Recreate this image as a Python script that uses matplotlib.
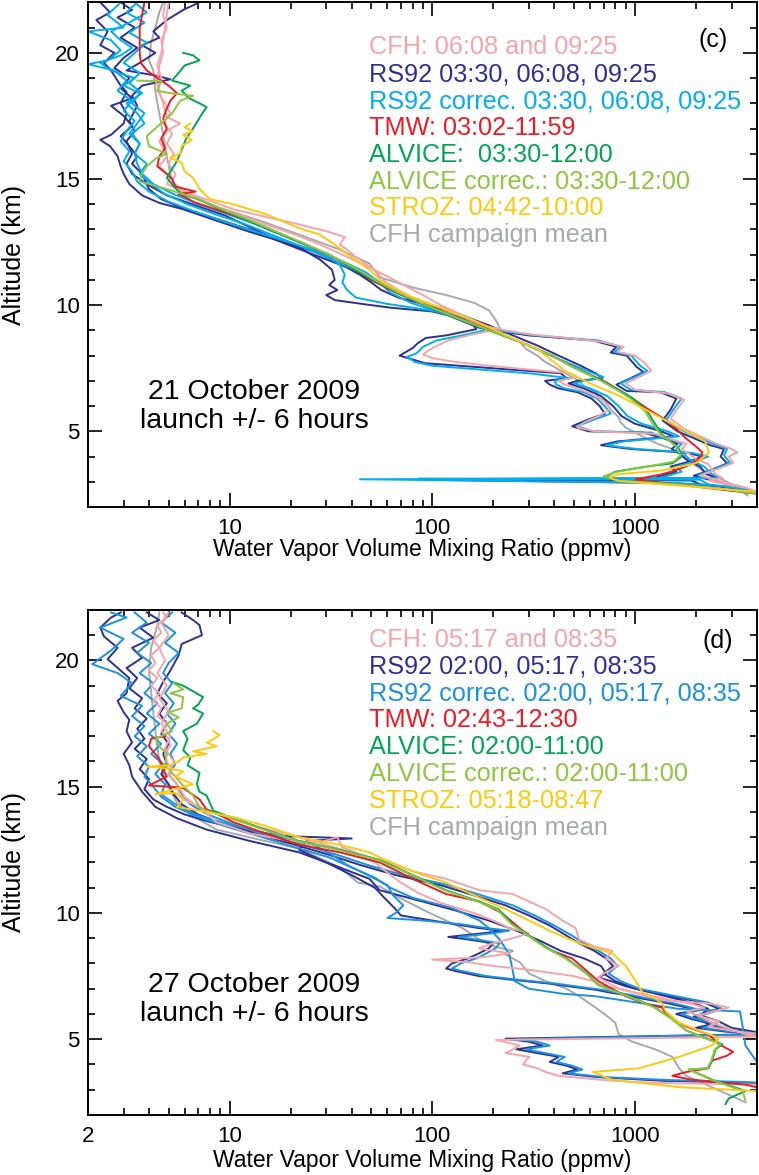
import matplotlib
matplotlib.use("Agg")
import matplotlib.pyplot as plt
from matplotlib.ticker import LogLocator, MultipleLocator, NullFormatter

plt.rcParams['font.family'] = ['Liberation Sans', 'DejaVu Sans']

# colours of the instruments
C_CFH = '#F5A5A9'
C_RS92 = '#2E3192'
C_RS92C_C = '#00AEEF'
C_RS92C_D = '#1A92DE'
C_TMW = '#ED1C24'
C_ALV = '#00A651'
C_ALVC = '#8DC63F'
C_STROZ = '#FFC90E'
C_MEAN = '#A7A9AC'

# ---------------- panel (c): 21 October 2009, pairs of (altitude km, ppmv)
c_cfh_0608 = [(22.0, 4.8), (21.5, 4.7), (21.0, 4.9), (20.5, 4.6), (20.0, 4.7), (19.5, 4.5), (19.0, 4.4), (18.9, 4.3),
              (18.5, 4.5), (18.0, 4.7), (17.45, 4.9), (17.2, 5.7), (16.9, 4.9), (16.5, 4.5), (15.9, 4.9), (15.5, 4.5),
              (15.05, 5.1), (14.8, 4.9), (14.5, 6.0), (14.2, 7.6), (13.8, 10.4), (13.5, 15), (13.2, 22), (12.9, 31),
              (12.7, 37), (12.4, 35), (12.2, 38), (11.9, 42), (11.4, 52), (10.95, 58), (10.6, 68), (10.3, 80),
              (10.0, 100), (9.8, 125), (9.5, 150), (9.2, 180), (9.0, 200), (8.8, 150), (8.6, 120), (8.3, 100),
              (8.05, 90), (7.9, 100), (7.75, 130), (7.6, 190), (7.45, 300), (7.3, 480), (7.15, 520), (7.0, 420),
              (6.85, 450), (6.7, 520), (6.5, 600), (6.2, 700), (5.9, 760), (5.6, 660), (5.35, 560), (5.15, 520),
              (5.0, 640), (4.9, 1250), (4.7, 1500), (4.5, 1800), (4.3, 1700), (4.1, 1850), (3.9, 2000), (3.7, 2300),
              (3.5, 2400), (3.3, 2500), (3.15, 2700), (3.05, 2300), (2.9, 2800), (2.75, 3600), (2.6, 3980)]
c_cfh_0925 = [(22.0, 5.0), (21.0, 4.8), (20.0, 4.6), (19.5, 4.4), (19.0, 4.6), (18.5, 4.4), (18.0, 4.8), (17.6, 5.1),
              (17.2, 4.7), (16.8, 5.2), (16.4, 4.9), (16.0, 5.3), (15.6, 5.0), (15.2, 5.4), (14.9, 5.2), (14.6, 5.8),
              (14.3, 6.6), (14.0, 8.0), (13.6, 11), (13.2, 15), (12.8, 21), (12.4, 28), (12.0, 36), (11.6, 46),
              (11.2, 58), (10.8, 72), (10.4, 90), (10.0, 110), (9.6, 140), (9.2, 175), (9.0, 230), (8.85, 300),
              (8.7, 460), (8.55, 680), (8.35, 880), (8.15, 820), (8.0, 1000), (7.7, 1120), (7.4, 1200), (7.15, 1050),
              (6.9, 900), (6.65, 1000), (6.5, 1450), (6.25, 1750), (5.9, 1620), (5.5, 1500), (5.1, 1750), (4.8, 2100),
              (4.5, 2550), (4.3, 3000), (4.16, 3200), (4.0, 2900), (3.75, 3050), (3.5, 2550), (3.25, 2100),
              (3.0, 2700), (2.75, 3600), (2.55, 3980)]
c_rs92_0330 = [(22.0, 2.3), (21.6, 2.57), (21.3, 2.2), (20.85, 2.5), (20.3, 2.3), (20.0, 2.7), (19.6, 2.4), (19.3, 2.6),
               (18.7, 2.9), (18.45, 3.1), (18.0, 2.9), (17.6, 3.1), (17.2, 3.0), (16.75, 2.6), (16.55, 2.3),
               (16.3, 2.57), (15.9, 2.8), (15.5, 2.9), (15.2, 3.0), (14.8, 3.2), (14.35, 3.7), (14.05, 4.5),
               (13.8, 5.9), (13.35, 8.6), (12.9, 12.6), (12.5, 18.5), (12.1, 26.6), (11.65, 35), (11.2, 44),
               (10.9, 50), (10.6, 56), (10.3, 68), (10.0, 95), (9.6, 140), (9.2, 190), (8.8, 250), (8.4, 330),
               (8.0, 420), (7.6, 540), (7.3, 640), (7.1, 690), (7.0, 520), (6.9, 470), (6.7, 560), (6.4, 680),
               (6.0, 780), (5.6, 860), (5.3, 1000), (5.0, 1350), (4.8, 1550), (4.6, 820), (4.45, 680), (4.3, 950),
               (4.15, 1800), (4.0, 2150), (3.8, 1850), (3.6, 1500), (3.4, 1600), (3.2, 1300), (3.1, 1200),
               (3.08, 95), (2.95, 1500), (2.8, 3000), (2.6, 3980)]
c_rs92_0608 = [(22.0, 7.1), (21.7, 5.9), (21.3, 4.9), (20.85, 4.2), (20.6, 4.5), (20.3, 3.7), (20.0, 4.3), (19.6, 3.6),
               (19.3, 3.1), (19.1, 4.3), (18.95, 5.1), (18.7, 3.7), (18.3, 3.3), (17.9, 3.5), (17.3, 3.2), (16.9, 3.4),
               (16.5, 3.1), (16.0, 3.3), (15.6, 3.1), (15.2, 3.3), (14.8, 3.9), (14.35, 4.9), (13.9, 7.1),
               (13.55, 9.5), (13.1, 12.5), (12.6, 17), (12.2, 23), (11.8, 28), (11.4, 32), (11.0, 33), (10.8, 31),
               (10.6, 34), (10.4, 30), (10.2, 33), (10.05, 45), (9.9, 62), (9.75, 100), (9.5, 135), (9.2, 160),
               (9.05, 165), (8.8, 117), (8.7, 93), (8.5, 85), (8.3, 80), (8.0, 69), (7.9, 76), (7.7, 92), (7.6, 135),
               (7.45, 240), (7.3, 430), (7.1, 460), (7.0, 360), (6.85, 380), (6.7, 420), (6.55, 520), (6.3, 610),
               (6.0, 670), (5.7, 710), (5.45, 580), (5.2, 490), (5.0, 590), (4.95, 1100), (4.73, 1380), (4.5, 1620),
               (4.3, 1520), (4.1, 1680), (3.9, 1780), (3.6, 2100), (3.3, 2250), (3.15, 2550), (3.1, 120),
               (3.05, 1900), (2.9, 2100), (2.7, 3400), (2.55, 3980)]
c_rs92_0925 = [(22.0, 2.9), (21.7, 3.3), (21.4, 2.8), (21.0, 3.4), (20.6, 2.9), (20.2, 3.5), (19.8, 3.0), (19.4, 2.7),
               (19.0, 3.2), (18.6, 2.9), (18.2, 3.3), (17.9, 2.6), (17.5, 3.0), (17.1, 3.3), (16.7, 2.9), (16.3, 3.2),
               (15.9, 3.5), (15.6, 3.3), (15.3, 3.6), (15.0, 3.8), (14.6, 4.0), (14.2, 4.6), (13.8, 6.0), (13.4, 8.8),
               (13.0, 12.5), (12.5, 18), (12.0, 26), (11.5, 38), (11.0, 50), (10.5, 68), (10.0, 92), (9.5, 128),
               (9.1, 171), (8.9, 245), (8.8, 300), (8.7, 430), (8.6, 620), (8.35, 810), (8.12, 760), (8.0, 910),
               (7.55, 1020), (7.35, 1100), (7.1, 950), (6.85, 810), (6.6, 910), (6.55, 1330), (6.3, 1600),
               (5.86, 1500), (5.43, 1370), (5.0, 1620), (4.73, 1950), (4.45, 2350), (4.3, 2750), (4.0, 2650),
               (3.73, 2850), (3.45, 2350), (3.24, 1950), (3.0, 2550), (2.75, 3450), (2.53, 3980)]
c_rs92c_0330 = [(22.0, 2.9), (21.5, 2.5), (21.0, 3.0), (20.85, 2.0), (20.5, 2.6), (20.1, 2.9), (19.7, 2.5), (19.55, 2.0),
                (19.3, 2.7), (18.9, 3.1), (18.5, 2.8), (18.1, 3.3), (17.7, 3.0), (17.3, 3.4), (16.9, 3.1), (16.5, 2.9),
                (16.1, 3.2), (15.7, 3.0), (15.3, 3.3), (14.9, 3.5), (14.5, 4.0), (14.1, 5.0), (13.7, 6.8), (13.3, 9.5),
                (12.9, 13.5), (12.5, 19.5), (12.1, 28), (11.7, 37), (11.3, 47), (10.9, 55), (10.5, 62), (10.1, 78),
                (9.7, 110), (9.3, 155), (8.9, 210), (8.5, 280), (8.1, 360), (7.7, 470), (7.35, 600), (7.15, 700),
                (7.0, 560), (6.9, 500), (6.7, 600), (6.4, 730), (6.0, 830), (5.6, 920), (5.3, 1080), (5.0, 1450),
                (4.8, 1650), (4.6, 880), (4.45, 720), (4.3, 1020), (4.15, 1900), (4.0, 2300), (3.8, 1950), (3.6, 1600),
                (3.4, 1700), (3.2, 1400), (3.13, 1300), (3.1, 44), (2.95, 1600), (2.8, 3100), (2.6, 3980)]
c_rs92c_0608 = [(22.0, 3.4), (21.6, 3.9), (21.2, 3.2), (20.85, 2.6), (20.5, 2.9), (20.2, 3.3), (19.9, 2.9), (19.6, 2.3),
                (19.3, 2.6), (19.0, 3.4), (18.7, 3.0), (18.4, 3.6), (18.0, 3.3), (17.6, 3.8), (17.2, 3.5), (16.8, 3.2),
                (16.4, 3.6), (16.0, 3.4), (15.6, 3.5), (15.2, 3.7), (14.8, 4.2), (14.4, 5.3), (14.0, 7.0), (13.6, 9.8),
                (13.2, 13.5), (12.8, 18), (12.4, 24), (12.0, 30), (11.6, 35), (11.2, 37), (10.9, 36), (10.6, 38),
                (10.3, 42), (10.05, 60), (9.9, 80), (9.7, 115), (9.45, 150), (9.2, 175), (9.0, 180), (8.8, 140),
                (8.6, 105), (8.35, 90), (8.1, 84), (7.95, 75), (7.75, 82), (7.6, 100), (7.45, 170), (7.3, 300),
                (7.1, 480), (7.0, 400), (6.85, 410), (6.7, 450), (6.55, 560), (6.3, 650), (6.0, 710), (5.7, 760),
                (5.45, 620), (5.2, 520), (5.0, 620), (4.95, 1200), (4.73, 1450), (4.5, 1700), (4.3, 1600), (4.1, 1750),
                (3.9, 1850), (3.6, 2200), (3.3, 2400), (3.15, 2700), (3.12, 85), (3.08, 2100), (2.9, 2300),
                (2.7, 3500), (2.55, 3980)]
c_rs92c_0925 = [(22.0, 3.5), (21.6, 3.1), (21.2, 3.8), (20.8, 3.2), (20.4, 3.9), (20.0, 3.4), (19.6, 3.0), (19.2, 3.6),
                (18.8, 3.2), (18.4, 3.7), (18.0, 3.1), (17.6, 3.5), (17.2, 3.8), (16.8, 3.3), (16.4, 3.6), (16.0, 3.4),
                (15.6, 3.9), (15.2, 3.6), (14.8, 4.1), (14.4, 4.8), (14.0, 6.2), (13.6, 8.5), (13.2, 12), (12.8, 16),
                (12.3, 23), (11.8, 32), (11.3, 44), (10.8, 58), (10.3, 76), (9.8, 105), (9.4, 140), (9.05, 185),
                (8.9, 260), (8.8, 320), (8.7, 460), (8.6, 660), (8.35, 850), (8.15, 790), (8.0, 960), (7.6, 1060),
                (7.4, 1150), (7.15, 1000), (6.9, 850), (6.65, 950), (6.55, 1400), (6.3, 1700), (5.9, 1560),
                (5.45, 1430), (5.05, 1700), (4.75, 2050), (4.5, 2450), (4.3, 2850), (4.05, 2750), (3.75, 2950),
                (3.5, 2450), (3.25, 2050), (3.0, 2650), (2.75, 3500), (2.53, 3980)]
c_tmw = [(22.0, 3.8), (21.0, 3.6), (20.0, 3.6), (19.6, 3.65), (19.3, 3.9), (19.0, 4.4), (18.7, 5.0), (18.4, 5.5),
         (18.1, 5.1), (17.8, 4.9), (17.4, 4.7), (17.0, 4.9), (16.6, 4.6), (16.2, 4.8), (15.9, 4.5), (15.5, 4.4),
         (15.2, 4.9), (15.0, 5.2), (14.7, 5.4), (14.5, 6.8), (14.4, 5.6), (14.3, 6.0), (14.1, 6.6), (13.8, 8.5),
         (13.4, 12), (13.0, 16), (12.5, 22), (12.0, 31), (11.5, 40), (11.0, 50), (10.5, 66), (10.0, 92), (9.5, 135),
         (9.0, 195), (8.5, 280), (8.0, 390), (7.5, 510), (7.0, 700), (6.6, 850), (6.3, 975), (5.9, 1150),
         (5.45, 1420), (5.1, 1600), (4.73, 1780), (4.4, 2000), (4.16, 2150), (3.95, 2100), (3.73, 1930),
         (3.5, 1650), (3.3, 1365), (3.1, 1010), (2.95, 1400), (2.75, 2300), (2.53, 3980)]
c_alvice = [(20.0, 5.9), (19.9, 6.6), (19.7, 7.1), (19.5, 6.0), (19.2, 5.6), (18.9, 5.2), (18.7, 6.4), (18.5, 5.8),
            (18.2, 6.3), (18.0, 7.1), (17.85, 7.7), (17.5, 7.2), (17.0, 6.6), (16.6, 6.1), (16.3, 5.9), (16.0, 5.7),
            (15.6, 5.4), (15.3, 5.1), (15.05, 4.9), (14.7, 5.3), (14.4, 5.8), (14.2, 7.0), (13.8, 9.0), (13.4, 12),
            (13.0, 15.5), (12.5, 22), (12.0, 31), (11.5, 40), (11.0, 51), (10.5, 67), (10.0, 92), (9.5, 130),
            (9.0, 190), (8.5, 280), (8.0, 390), (7.5, 510), (7.0, 690), (6.6, 850), (6.3, 975), (5.8, 1150),
            (5.45, 1220), (4.87, 1365), (4.3, 1650), (4.0, 1700), (3.73, 1530), (3.6, 1130), (3.4, 800), (3.2, 720),
            (3.05, 830), (2.9, 1650), (2.7, 2800), (2.53, 3980)]
c_alvice_cor = [(18.9, 3.5), (18.87, 4.6), (18.5, 4.4), (18.4, 5.1), (18.3, 6.6), (18.1, 5.7), (17.6, 5.2), (17.0, 4.3),
                (16.7, 3.9), (16.3, 4.0), (16.0, 4.9), (15.8, 4.3), (15.5, 3.9), (15.2, 3.7), (14.9, 3.6), (14.6, 4.9),
                (14.2, 7.1), (13.8, 9.2), (13.4, 12.3), (13.0, 16), (12.5, 22.5), (12.0, 31), (11.5, 41), (11.0, 52),
                (10.5, 68), (10.0, 93), (9.5, 132), (9.0, 192), (8.5, 282), (8.0, 390), (7.5, 505), (7.0, 680),
                (6.6, 830), (6.3, 950), (5.8, 1120), (5.4, 1200), (4.9, 1330), (4.4, 1600), (4.05, 1680), (3.8, 1550),
                (3.6, 1150), (3.4, 820), (3.22, 700), (3.05, 820), (2.9, 1600), (2.7, 2800), (2.53, 3980)]
c_stroz = [(17.2, 6.4), (17.05, 6.0), (16.9, 6.6), (16.75, 5.9), (16.55, 6.5), (16.3, 5.8), (16.0, 5.7), (15.85, 5.1),
           (15.65, 5.8), (15.3, 6.0), (15.05, 6.6), (14.6, 7.1), (14.2, 8.0), (14.0, 10.4), (13.6, 15.2), (13.05, 22),
           (12.8, 27.8), (12.4, 33), (11.9, 40), (11.4, 49), (10.95, 56), (10.4, 75), (9.8, 117), (9.4, 160),
           (9.0, 206), (8.55, 270), (8.26, 330), (7.8, 390), (7.4, 450), (6.85, 620), (6.4, 840), (5.86, 1130),
           (5.15, 1650), (4.6, 2220), (4.16, 2320), (3.73, 1990), (3.45, 1365), (3.3, 830), (3.17, 750), (3.03, 830),
           (2.75, 2400), (2.6, 3980)]
c_mean = [(22.0, 4.7), (21.6, 4.5), (21.0, 4.3), (20.4, 4.1), (19.7, 4.0), (19.3, 4.2), (18.45, 4.3), (17.6, 4.5),
          (16.75, 4.7), (15.9, 4.9), (15.2, 5.1), (14.8, 5.3), (14.4, 6.0), (13.9, 8.6), (13.35, 14.1), (12.8, 22),
          (12.2, 35), (11.65, 49), (11.1, 55), (10.7, 80), (10.4, 117), (10.1, 160), (9.8, 190), (9.4, 206),
          (9.1, 215), (8.8, 230), (8.55, 270), (8.26, 290), (8.0, 330), (7.75, 360), (7.55, 400), (7.27, 460),
          (7.0, 530), (6.8, 560), (6.56, 640), (6.35, 660), (6.15, 720), (5.85, 760), (5.57, 830), (5.35, 850),
          (5.15, 900), (4.95, 1000), (4.73, 1130), (4.5, 1300), (4.3, 1530), (3.9, 1800), (3.45, 2150),
          (3.0, 2850), (2.46, 3600)]

# ---------------- panel (d): 27 October 2009
d_cfh_0517 = [(21.9, 4.7), (21.7, 4.9), (21.4, 4.4), (21.1, 4.6), (20.8, 4.2), (20.5, 4.5), (20.2, 4.1), (19.9, 4.3),
              (19.6, 4.0), (19.3, 4.4), (19.0, 4.1), (18.7, 4.5), (18.4, 4.2), (18.1, 4.6), (17.8, 4.4), (17.5, 4.9),
              (17.2, 4.6), (16.9, 5.0), (16.6, 5.1), (16.3, 4.8), (16.0, 4.9), (15.7, 5.2), (15.4, 5.1), (15.1, 5.5),
              (14.8, 5.6), (14.5, 5.9), (14.2, 7.1), (13.9, 7.8), (13.6, 8.6), (13.15, 12.6), (12.85, 20), (12.8, 28),
              (13.0, 34), (12.6, 36), (12.3, 45), (12.1, 55), (11.65, 80), (11.35, 117), (10.9, 171), (10.75, 249),
              (10.45, 301), (10.15, 363), (9.7, 439), (9.4, 510), (8.95, 530), (8.65, 640), (8.5, 773), (8.2, 720),
              (7.9, 830), (7.6, 700), (7.45, 660), (7.0, 830), (6.55, 1365), (6.4, 2400), (6.25, 2900), (5.95, 2060),
              (5.65, 2400), (5.2, 3510), (5.1, 4200), (4.97, 206), (4.85, 240), (4.75, 270), (4.6, 250), (4.45, 230),
              (4.3, 301), (4.15, 290), (4.0, 280), (3.85, 330), (3.7, 363), (3.55, 420), (3.4, 660), (3.3, 1000),
              (3.25, 1650), (3.2, 4200)]
d_cfh_0835 = [(21.9, 5.0), (21.5, 4.6), (21.0, 5.0), (20.5, 4.5), (20.0, 4.8), (19.5, 4.4), (19.0, 4.9), (18.5, 4.5),
              (18.0, 5.0), (17.5, 4.6), (17.0, 5.1), (16.5, 4.8), (16.0, 5.3), (15.5, 5.0), (15.0, 5.6), (14.6, 6.0),
              (14.2, 7.0), (13.8, 9.5), (13.4, 14), (13.0, 22), (12.7, 30), (12.4, 40), (12.0, 52), (11.6, 60),
              (11.2, 70), (10.8, 85), (10.4, 110), (10.0, 160), (9.7, 200), (9.4, 240), (9.2, 300), (9.0, 250),
              (8.8, 200), (8.6, 170), (8.4, 240), (8.25, 180), (8.15, 100), (8.05, 150), (7.9, 200), (7.75, 300),
              (7.5, 500), (7.3, 620), (7.1, 700), (7.0, 850), (6.85, 1000), (6.7, 1250), (6.55, 1500), (6.4, 1900),
              (6.25, 2200), (6.1, 1800), (5.9, 2100), (5.7, 2600), (5.5, 2300), (5.3, 3200), (5.2, 4200)]
d_rs92_0200 = [(21.9, 2.9), (21.7, 2.6), (21.3, 2.3), (20.95, 2.4), (20.5, 2.8), (20.05, 2.5), (19.6, 2.9), (19.3, 3.2),
               (18.7, 3.1), (18.4, 2.8), (17.95, 3.0), (17.65, 3.2), (17.2, 3.1), (16.75, 3.3), (16.3, 3.0),
               (15.85, 3.2), (15.4, 3.3), (14.8, 3.7), (14.2, 4.3), (13.75, 5.5), (13.3, 7.7), (12.85, 12.6),
               (12.4, 22), (11.8, 35), (11.35, 49), (10.9, 55), (10.5, 85), (10.1, 130), (9.7, 190), (9.3, 260),
               (8.9, 340), (8.5, 430), (8.2, 560), (7.9, 680), (7.6, 720), (7.45, 660), (7.3, 760), (7.1, 900),
               (6.85, 1200), (6.6, 1600), (6.4, 2000), (6.2, 2300), (5.95, 2100), (5.7, 2600), (5.45, 3000),
               (5.25, 4200)]
d_rs92_0517 = [(21.9, 5.8), (21.6, 6.6), (21.4, 7.1), (21.0, 7.3), (20.8, 6.4), (20.65, 5.8), (20.2, 5.6), (19.6, 5.1),
               (19.15, 4.7), (18.7, 4.4), (18.3, 4.9), (17.9, 4.5), (17.5, 4.9), (17.1, 4.6), (16.7, 5.0), (16.3, 4.7),
               (15.9, 4.9), (15.5, 4.6), (15.1, 5.0), (14.7, 5.3), (14.3, 5.8), (13.9, 7.0), (13.5, 9.5), (13.1, 14),
               (12.7, 21), (12.3, 31), (11.9, 44), (11.5, 66), (11.1, 110), (10.7, 160), (10.3, 230), (9.9, 300),
               (9.5, 380), (9.1, 460), (8.8, 530), (8.5, 630), (8.2, 720), (7.9, 780), (7.6, 700), (7.3, 800),
               (7.0, 1000), (6.7, 1500), (6.45, 2200), (6.2, 2600), (5.9, 1950), (5.6, 2300), (5.35, 3000),
               (5.2, 4200), (5.02, 230), (4.9, 300), (4.75, 350), (4.6, 260), (4.45, 330), (4.3, 420), (4.1, 380),
               (3.95, 460), (3.8, 520), (3.65, 440), (3.5, 650), (3.35, 1400), (3.3, 2800), (3.25, 4200)]
d_rs92_0835 = [(21.9, 3.9), (21.6, 4.5), (21.3, 3.6), (20.9, 4.2), (20.5, 3.3), (20.1, 3.7), (19.7, 3.1), (19.3, 3.5),
               (18.9, 3.2), (18.5, 3.7), (18.1, 3.4), (17.7, 3.9), (17.3, 3.5), (16.9, 3.8), (16.5, 3.4), (16.1, 3.9),
               (15.7, 3.6), (15.3, 4.0), (14.9, 3.8), (14.5, 4.2), (14.2, 4.9), (13.9, 6.0), (13.6, 8.0), (13.3, 12),
               (13.05, 18), (12.95, 40), (12.85, 24), (12.5, 22), (12.0, 30), (11.5, 40), (11.0, 52), (10.6, 58),
               (10.2, 65), (9.9, 70), (9.7, 100), (9.55, 130), (9.4, 170), (9.3, 220), (9.2, 180), (9.05, 120),
               (8.95, 150), (8.8, 200), (8.6, 190), (8.4, 170), (8.2, 150), (8.0, 125), (7.8, 117), (7.7, 130),
               (7.5, 170), (7.35, 250), (7.2, 380), (7.05, 520), (6.95, 650), (6.85, 750), (6.75, 900), (6.6, 1100),
               (6.45, 1400), (6.3, 1700), (6.15, 2000), (6.0, 1600), (5.8, 1900), (5.6, 2400), (5.45, 2000),
               (5.3, 2800), (5.2, 4200)]
d_rs92c_0200 = [(21.9, 2.6), (21.7, 3.1), (21.3, 2.3), (20.85, 3.0), (20.4, 2.6), (19.85, 2.1), (19.5, 2.8), (19.1, 3.3),
                (18.6, 2.9), (18.2, 3.7), (17.8, 3.3), (17.4, 3.8), (17.0, 3.4), (16.6, 3.9), (16.2, 3.5), (15.8, 4.0),
                (15.4, 3.8), (15.0, 4.2), (14.6, 4.6), (14.2, 5.4), (13.8, 7.0), (13.4, 9.8), (13.0, 14.5), (12.6, 21),
                (12.2, 31), (11.8, 40), (11.4, 52), (11.0, 62), (10.6, 80), (10.2, 125), (9.7, 171), (9.4, 190),
                (8.95, 215), (8.35, 240), (7.75, 249), (7.3, 255), (7.0, 300), (6.8, 440), (6.7, 640), (6.4, 1130),
                (6.2, 1650), (6.1, 3300), (5.5, 3400), (4.75, 3510), (3.85, 4200)]
d_rs92c_0517 = [(21.9, 5.2), (21.5, 4.6), (21.1, 5.4), (20.7, 4.8), (20.3, 5.6), (19.9, 5.0), (19.5, 4.7), (19.1, 5.2),
                (18.7, 4.8), (18.3, 5.3), (17.9, 4.9), (17.5, 5.4), (17.1, 5.0), (16.7, 5.5), (16.3, 5.1), (15.9, 5.4),
                (15.5, 5.0), (15.1, 5.5), (14.7, 5.8), (14.3, 6.4), (13.9, 7.8), (13.5, 10.5), (13.1, 15), (12.7, 23),
                (12.3, 34), (11.9, 48), (11.5, 72), (11.1, 120), (10.7, 175), (10.3, 250), (9.9, 320), (9.5, 400),
                (9.1, 490), (8.8, 560), (8.5, 660), (8.2, 760), (7.9, 820), (7.6, 740), (7.3, 850), (7.0, 1050),
                (6.7, 1600), (6.45, 2300), (6.2, 2700), (5.9, 2050), (5.6, 2400), (5.35, 3100), (5.2, 4200),
                (5.0, 260), (4.9, 330), (4.75, 380), (4.6, 290), (4.45, 360), (4.3, 450), (4.1, 410), (3.95, 490),
                (3.8, 550), (3.65, 470), (3.5, 700), (3.38, 1500), (3.32, 3000), (3.28, 4200)]
d_rs92c_0835 = [(21.9, 3.4), (21.5, 3.9), (21.1, 3.3), (20.7, 4.0), (20.3, 3.5), (19.9, 4.1), (19.5, 3.6), (19.1, 4.2),
                (18.7, 3.8), (18.3, 4.4), (17.9, 3.9), (17.5, 4.5), (17.1, 4.0), (16.7, 4.6), (16.3, 4.1), (15.9, 4.7),
                (15.5, 4.3), (15.1, 4.8), (14.7, 4.6), (14.3, 5.4), (13.9, 6.8), (13.5, 10), (13.1, 16), (12.7, 26),
                (12.3, 32), (11.9, 38), (11.5, 48), (11.1, 60), (10.7, 64), (10.3, 72), (10.0, 66), (9.8, 60),
                (9.7, 90), (9.55, 140), (9.4, 185), (9.3, 240), (9.2, 200), (9.05, 135), (8.95, 165), (8.8, 215),
                (8.6, 205), (8.4, 185), (8.2, 165), (8.0, 138), (7.8, 125), (7.7, 140), (7.5, 185), (7.35, 270),
                (7.2, 410), (7.05, 560), (6.95, 700), (6.85, 800), (6.75, 960), (6.6, 1180), (6.45, 1500), (6.3, 1800),
                (6.15, 2100), (6.0, 1700), (5.8, 2000), (5.6, 2550), (5.45, 2150), (5.3, 3000), (5.2, 4200)]
d_tmw = [(17.0, 4.8), (16.9, 4.1), (16.6, 4.0), (16.1, 4.5), (15.7, 4.7), (15.4, 4.9), (15.05, 4.0), (15.0, 5.0),
         (14.95, 5.9), (14.5, 7.1), (14.1, 7.7), (14.0, 8.3), (13.6, 10.4), (13.15, 15), (12.7, 22), (12.4, 35),
         (12.0, 55), (11.35, 80), (10.75, 117), (10.45, 171), (10.0, 220), (9.4, 270), (8.95, 316), (8.5, 390),
         (8.2, 490), (7.75, 570), (7.3, 660), (7.0, 770), (6.7, 900), (6.4, 1130), (6.25, 1365), (6.1, 1400),
         (5.8, 1530), (5.5, 1790), (5.2, 2300), (4.8, 2600), (4.5, 3050), (4.35, 2850), (4.15, 2400), (3.85, 2300),
         (3.7, 1790), (3.55, 1530), (3.4, 1900), (3.2, 3510), (3.1, 3980)]
d_alvice = [(19.15, 5.2), (19.0, 5.9), (18.55, 7.4), (18.25, 7.0), (18.1, 6.6), (17.9, 7.4), (17.5, 6.9), (17.2, 5.9),
            (16.9, 6.2), (16.45, 5.9), (16.15, 6.4), (15.85, 6.2), (15.55, 7.1), (15.1, 6.9), (14.8, 7.1),
            (14.65, 7.7), (14.35, 8.0), (14.05, 8.3), (13.75, 10.4), (13.3, 15), (12.85, 22), (12.5, 35), (12.1, 55),
            (11.5, 80), (10.9, 117), (10.45, 171), (10.15, 212), (9.55, 249), (9.1, 301), (8.65, 363), (8.2, 460),
            (7.6, 580), (7.15, 660), (6.85, 830), (6.55, 1040), (6.25, 1260), (5.8, 1530), (5.35, 1790),
            (5.05, 2220), (4.8, 2700), (4.6, 2500), (4.15, 2400), (3.85, 2300), (3.8, 1850), (3.4, 2400),
            (2.95, 3510), (2.65, 2900), (2.43, 2800)]
d_alvice_cor = [(19.1, 5.3), (18.85, 5.9), (18.7, 5.1), (18.55, 5.9), (18.1, 5.8), (17.95, 5.0), (17.75, 5.6),
                (17.5, 4.9), (17.2, 5.2), (16.9, 4.3), (16.6, 4.5), (16.3, 4.9), (15.85, 4.8), (15.55, 5.2),
                (15.1, 5.8), (14.65, 6.6), (14.2, 7.1), (14.05, 7.7), (13.75, 10.2), (13.3, 14.7), (12.85, 21.5),
                (12.5, 34), (12.1, 54), (11.5, 79), (10.9, 115), (10.45, 168), (10.15, 208), (9.55, 246), (9.1, 298),
                (8.65, 358), (8.2, 455), (7.6, 575), (7.15, 655), (6.85, 820), (6.55, 1030), (6.25, 1250), (5.8, 1520),
                (5.35, 1780), (5.05, 2200), (4.8, 2650), (4.6, 2480), (4.15, 2380), (3.85, 2280), (3.8, 1840),
                (3.4, 2380), (2.95, 3400), (2.6, 3500)]
d_stroz = [(17.2, 8.3), (17.05, 8.9), (16.9, 8.4), (16.75, 7.7), (16.6, 8.6), (16.45, 7.1), (16.4, 6.6), (16.3, 7.7),
           (16.15, 5.9), (16.0, 5.6), (15.85, 5.1), (15.8, 3.9), (15.7, 5.2), (15.6, 5.9), (15.4, 5.4), (15.1, 6.6),
           (14.7, 4.3), (14.75, 5.4), (14.5, 5.9), (14.2, 5.5), (14.05, 7.1), (13.8, 10.4), (13.45, 15), (13.0, 22),
           (12.7, 35), (12.4, 49), (12.2, 55), (11.65, 80), (11.2, 117), (10.6, 171), (10.15, 230), (9.7, 301),
           (9.25, 390), (8.8, 530), (8.6, 640), (8.4, 773), (7.9, 900), (7.3, 1010), (6.85, 1090), (6.7, 1220),
           (6.4, 1365), (6.1, 1420), (5.65, 1650), (5.35, 2060), (5.05, 2600), (4.75, 2400), (4.3, 1650),
           (3.85, 1050), (3.7, 620), (3.4, 770), (3.1, 1650), (2.95, 3980)]
d_mean = [(21.9, 4.5), (21.4, 4.4), (20.5, 4.1), (19.6, 4.0), (18.7, 4.1), (17.2, 4.3), (16.0, 4.5), (15.1, 4.9),
          (14.35, 5.5), (13.9, 6.4), (13.3, 8.6), (12.85, 15), (12.55, 22), (11.8, 35), (11.2, 43), (11.05, 55),
          (10.6, 69), (10.0, 97), (9.4, 141), (8.95, 171), (8.65, 206), (8.5, 250), (8.35, 230), (8.05, 270),
          (7.6, 301), (7.3, 363), (7.0, 460), (6.7, 530), (6.25, 640), (5.95, 720), (5.65, 800), (5.2, 830),
          (4.9, 970), (4.6, 1260), (4.3, 1530), (3.85, 1650), (3.55, 1790), (3.1, 2400), (2.5, 3510)]

c_legend = ["CFH: 06:08 and 09:25", "RS92 03:30, 06:08, 09:25", "RS92 correc. 03:30, 06:08, 09:25",
            "TMW: 03:02-11:59", "ALVICE:  03:30-12:00", "ALVICE correc.: 03:30-12:00",
            "STROZ: 04:42-10:00", "CFH campaign mean"]
d_legend = ["CFH: 05:17 and 08:35", "RS92 02:00, 05:17, 08:35", "RS92 correc. 02:00, 05:17, 08:35",
            "TMW: 02:43-12:30", "ALVICE: 02:00-11:00", "ALVICE correc.: 02:00-11:00",
            "STROZ: 05:18-08:47", "CFH campaign mean"]

c_lines = [(c_mean, C_MEAN),
           (c_rs92_0330, C_RS92), (c_rs92_0608, C_RS92), (c_rs92_0925, C_RS92),
           (c_rs92c_0330, C_RS92C_C), (c_rs92c_0608, C_RS92C_C), (c_rs92c_0925, C_RS92C_C),
           (c_cfh_0608, C_CFH), (c_cfh_0925, C_CFH),
           (c_tmw, C_TMW), (c_alvice, C_ALV), (c_alvice_cor, C_ALVC), (c_stroz, C_STROZ)]
d_lines = [(d_mean, C_MEAN),
           (d_rs92_0200, C_RS92), (d_rs92_0517, C_RS92), (d_rs92_0835, C_RS92),
           (d_rs92c_0200, C_RS92C_D), (d_rs92c_0517, C_RS92C_D), (d_rs92c_0835, C_RS92C_D),
           (d_cfh_0517, C_CFH), (d_cfh_0835, C_CFH),
           (d_tmw, C_TMW), (d_alvice, C_ALV), (d_alvice_cor, C_ALVC), (d_stroz, C_STROZ)]


def draw_panel(ax, lines, legend, leg_colors, leg_y0, tag, tag_xy, date, date_y, xticks, xlab_y):
    for data, color in lines:
        alt, ppmv = zip(*data)
        ax.plot(ppmv, alt, color=color, lw=1.4)
    ax.set_xscale('log')
    ax.set_xlim(2, 4000)
    ax.set_ylim(2, 22)
    ax.set_xticks(xticks)
    ax.set_xticklabels([str(t) for t in xticks])
    ax.xaxis.set_minor_locator(LogLocator(base=10, subs=range(2, 10), numticks=20))
    ax.xaxis.set_minor_formatter(NullFormatter())
    ax.set_yticks([5, 10, 15, 20])
    ax.yaxis.set_minor_locator(MultipleLocator(1))
    ax.tick_params(which='both', direction='in', top=True, right=True, width=1.2, labelsize=16)
    ax.tick_params(which='major', length=10)
    ax.tick_params(which='minor', length=5)
    ax.tick_params(axis='x', pad=8)
    ax.tick_params(axis='y', pad=6)
    for s in ax.spines.values():
        s.set_linewidth(1.4)
    ax.set_xlabel("Water Vapor Volume Mixing Ratio (ppmv)", fontsize=16.5)
    ax.xaxis.set_label_coords(0.5, xlab_y)
    ax.set_ylabel("Altitude (km)", fontsize=18)
    ax.yaxis.set_label_coords(-0.092, 0.5)
    for i, (txt, col) in enumerate(zip(legend, leg_colors)):
        ax.text(0.42, leg_y0 - i * 0.0532, txt, color=col, fontsize=18.2,
                transform=ax.transAxes, ha='left', va='baseline')
    ax.text(tag_xy[0], tag_xy[1], tag, fontsize=18, transform=ax.transAxes, ha='center', va='center')
    ax.text(0.248, date_y, date, fontsize=20.5, transform=ax.transAxes, ha='center', va='center',
            multialignment='center', linespacing=1.15)


fig = plt.figure(figsize=(7.59, 11.75), dpi=100)
ax_c = fig.add_axes([0.1159, 0.5685, 0.8814, 0.4295])
ax_d = fig.add_axes([0.1159, 0.0511, 0.8814, 0.4298])

draw_panel(ax_c, c_lines, c_legend,
           [C_CFH, C_RS92, C_RS92C_C, C_TMW, C_ALV, C_ALVC, C_STROZ, C_MEAN],
           0.897, "(c)", (0.934, 0.925),
           "21 October 2009\nlaunch +/- 6 hours", 0.2, [10, 100, 1000], -0.062)
draw_panel(ax_d, d_lines, d_legend,
           [C_CFH, C_RS92, C_RS92C_D, C_TMW, C_ALV, C_ALVC, C_STROZ, C_MEAN],
           0.927, "(d)", (0.942, 0.939),
           "27 October 2009\nlaunch +/- 6 hours", 0.228, [2, 10, 100, 1000], -0.067)

fig.savefig("out.png", dpi=100)
